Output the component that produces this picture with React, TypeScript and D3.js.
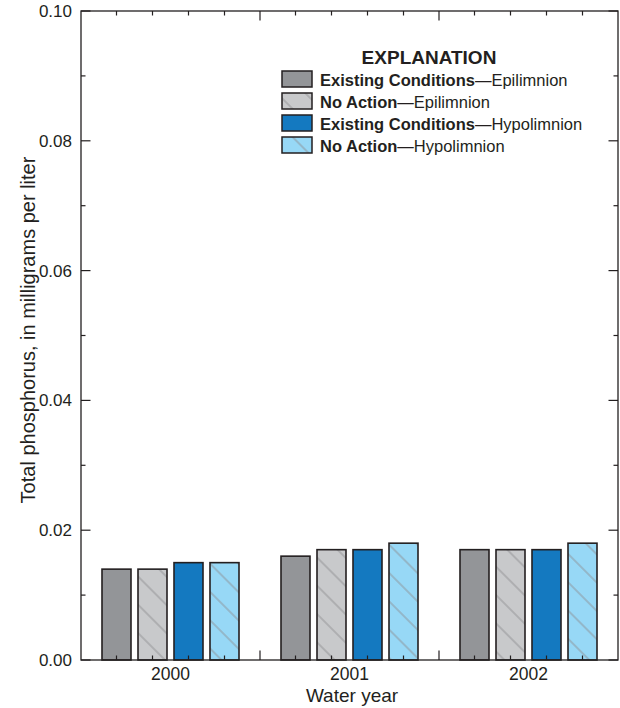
import React from "react";
import * as d3 from "d3";

const years = ["2000", "2001", "2002"];
const seriesNames = [
  "Existing Conditions|Epilimnion",
  "No Action|Epilimnion",
  "Existing Conditions|Hypolimnion",
  "No Action|Hypolimnion",
];
const seriesFill = ["#939598", "#c8c9cb", "#1479c0", "#97d8f6"];
const seriesHatch = [false, true, false, true];
const existingEpi = [0.014, 0.016, 0.017];
const noActionEpi = [0.014, 0.017, 0.017];
const existingHypo = [0.015, 0.017, 0.017];
const noActionHypo = [0.015, 0.018, 0.018];
const seriesValues = [existingEpi, noActionEpi, existingHypo, noActionHypo];
const yMajorTicks = [0, 0.02, 0.04, 0.06, 0.08, 0.1];
const yMinorTicks = [0.01, 0.03, 0.05, 0.07, 0.09];

const FONT = "'Liberation Sans Narrow', 'Arial Narrow', 'Liberation Sans', sans-serif";

export default function App() {
  const W = 620, H = 708;
  const left = 81, right = 618, top = 11, bottom = 660;
  const x = d3.scaleBand().domain(years).range([left, right]).paddingInner(0).paddingOuter(0);
  const xi = d3
    .scaleBand()
    .domain(seriesNames)
    .range([0, x.bandwidth()])
    .paddingInner(7 / 36)
    .paddingOuter(0.5833);
  const y = d3.scaleLinear().domain([0, 0.1]).range([bottom, top]);
  const ink = "#231f20";

  const barCenters: number[] = [];
  years.forEach((yr) => seriesNames.forEach((s) => barCenters.push((x(yr) as number) + (xi(s) as number) + xi.bandwidth() / 2)));
  const groupBounds = years.slice(1).map((yr) => x(yr) as number);

  return (
    <svg width={W} height={H} style={{ position: "absolute", left: 0, top: 0 }} fontFamily={FONT}>
      <defs>
        <pattern id="hatch" patternUnits="userSpaceOnUse" width={20} height={20} patternTransform="rotate(45)">
          <line x1={0} y1={10} x2={20} y2={10} stroke="#8e8f92" strokeWidth={0.9} />
        </pattern>
      </defs>
      <rect x={0} y={0} width={W} height={H} fill="#fff" />

      {/* bars */}
      {seriesNames.map((s, si) =>
        years.map((yr, yi) => {
          const bx = (x(yr) as number) + (xi(s) as number);
          const by = y(seriesValues[si][yi]);
          return (
            <g key={s + yr}>
              <rect x={bx} y={by} width={xi.bandwidth()} height={bottom - by} fill={seriesFill[si]} />
              {seriesHatch[si] && (
                <rect x={bx} y={by} width={xi.bandwidth()} height={bottom - by} fill="url(#hatch)" />
              )}
              <rect x={bx} y={by} width={xi.bandwidth()} height={bottom - by} fill="none" stroke={ink} strokeWidth={1.6} />
            </g>
          );
        })
      )}

      {/* frame */}
      <rect x={left} y={top} width={right - left} height={bottom - top} fill="none" stroke={ink} strokeWidth={1.3} />

      {/* x ticks */}
      {barCenters.map((c, i) => (
        <g key={"bc" + i}>
          <line x1={c} x2={c} y1={bottom} y2={bottom - 4.5} stroke={ink} strokeWidth={1.2} />
          <line x1={c} x2={c} y1={top} y2={top + 4.5} stroke={ink} strokeWidth={1.2} />
        </g>
      ))}
      {groupBounds.map((c, i) => (
        <g key={"gb" + i}>
          <line x1={c} x2={c} y1={bottom} y2={bottom - 9.5} stroke={ink} strokeWidth={1.2} />
          <line x1={c} x2={c} y1={top} y2={top + 9.5} stroke={ink} strokeWidth={1.2} />
        </g>
      ))}

      {/* y ticks */}
      {yMajorTicks.map((t) => (
        <g key={"ym" + t}>
          <line x1={left} x2={left + 9.5} y1={y(t)} y2={y(t)} stroke={ink} strokeWidth={1.2} />
          <line x1={right} x2={right - 9.5} y1={y(t)} y2={y(t)} stroke={ink} strokeWidth={1.2} />
          <text x={72} y={y(t) + 6} textAnchor="end" fontSize={17} fill={ink}>
            {t.toFixed(2)}
          </text>
        </g>
      ))}
      {yMinorTicks.map((t) => (
        <g key={"yn" + t}>
          <line x1={left} x2={left + 4.5} y1={y(t)} y2={y(t)} stroke={ink} strokeWidth={1.2} />
          <line x1={right} x2={right - 4.5} y1={y(t)} y2={y(t)} stroke={ink} strokeWidth={1.2} />
        </g>
      ))}

      {/* x labels */}
      {years.map((yr) => (
        <text key={"xl" + yr} x={(x(yr) as number) + x.bandwidth() / 2} y={680} textAnchor="middle" fontSize={17.5} fill={ink}>
          {yr}
        </text>
      ))}
      <text x={352} y={702} textAnchor="middle" fontSize={19} fill={ink}>
        Water year
      </text>
      <text transform="translate(35,330) rotate(-90)" textAnchor="middle" fontSize={20} fill={ink}>
        Total phosphorus, in milligrams per liter
      </text>

      {/* legend */}
      <text x={429} y={63.5} textAnchor="middle" fontSize={19} fontWeight="bold" fill={ink}>
        EXPLANATION
      </text>
      {seriesNames.map((s, i) => {
        const [bold, rest] = s.split("|");
        const ry = 71 + i * 22;
        return (
          <g key={"lg" + s}>
            <rect x={282} y={ry} width={30} height={16} fill={seriesFill[i]} />
            {seriesHatch[i] && <rect x={282} y={ry} width={30} height={16} fill="url(#hatch)" />}
            <rect x={282} y={ry} width={30} height={16} fill="none" stroke={ink} strokeWidth={1.5} />
            <text x={320} y={ry + 14.5} fontSize={16.5} fill={ink}>
              <tspan fontWeight="bold">{bold}</tspan>
              <tspan>{"\u2014" + rest}</tspan>
            </text>
          </g>
        );
      })}
    </svg>
  );
}
